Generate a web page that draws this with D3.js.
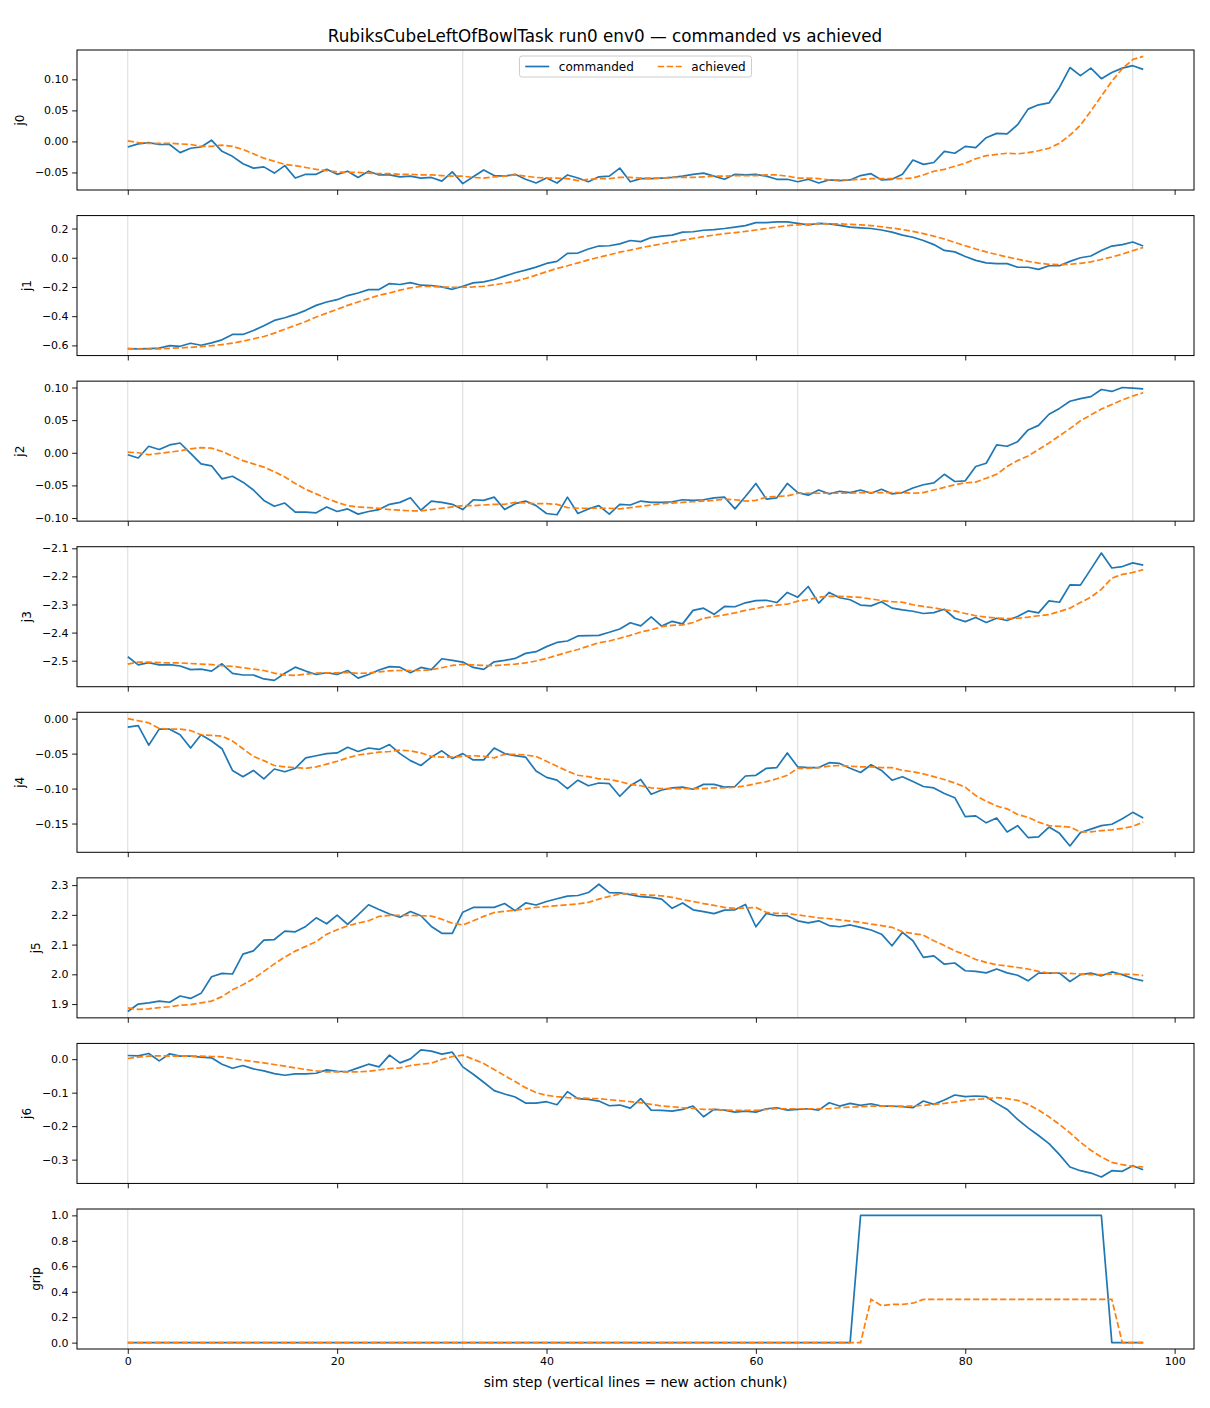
<!DOCTYPE html>
<html>
<head>
<meta charset="utf-8">
<script src="https://cdn.jsdelivr.net/npm/d3@7"></script>
<style>
  body { margin: 0; background: #fff; }
  text { font-family: "DejaVu Sans", sans-serif; }
</style>
</head>
<body>
<div id="chart"></div>
<script>
// ---------------- DATA (one value per sim step) ----------------
var j0Commanded = [
  -0.009, -0.004, -0.002, -0.005, -0.005, -0.018, -0.011, -0.009, 0.002, -0.016,
  -0.024, -0.036, -0.043, -0.041, -0.051, -0.039, -0.059, -0.053, -0.053, -0.045,
  -0.053, -0.048, -0.058, -0.048, -0.054, -0.054, -0.057, -0.056, -0.059, -0.058,
  -0.064, -0.049, -0.068, -0.057, -0.046, -0.055, -0.056, -0.053, -0.061, -0.067,
  -0.059, -0.067, -0.054, -0.059, -0.065, -0.057, -0.056, -0.043, -0.065, -0.060,
  -0.060, -0.059, -0.058, -0.056, -0.053, -0.051, -0.056, -0.061, -0.053, -0.054,
  -0.053, -0.056, -0.061, -0.061, -0.065, -0.061, -0.067, -0.062, -0.063, -0.062,
  -0.055, -0.052, -0.062, -0.061, -0.053, -0.030, -0.037, -0.034, -0.016, -0.019,
  -0.008, -0.010, 0.006, 0.013, 0.012, 0.027, 0.052, 0.059, 0.062, 0.087,
  0.119, 0.106, 0.118, 0.101, 0.111, 0.118, 0.122, 0.116];
var j0Achieved = [
  0.001, -0.002, -0.003, -0.003, -0.003, -0.004, -0.005, -0.008, -0.008, -0.006,
  -0.008, -0.013, -0.020, -0.027, -0.032, -0.037, -0.039, -0.042, -0.045, -0.047,
  -0.049, -0.050, -0.050, -0.051, -0.052, -0.052, -0.053, -0.053, -0.054, -0.054,
  -0.055, -0.056, -0.056, -0.058, -0.059, -0.057, -0.056, -0.054, -0.056, -0.058,
  -0.059, -0.059, -0.060, -0.063, -0.061, -0.060, -0.060, -0.058, -0.058, -0.059,
  -0.059, -0.059, -0.058, -0.058, -0.058, -0.057, -0.056, -0.056, -0.055, -0.055,
  -0.055, -0.054, -0.054, -0.056, -0.059, -0.059, -0.060, -0.062, -0.062, -0.062,
  -0.061, -0.060, -0.060, -0.060, -0.060, -0.059, -0.054, -0.048, -0.045, -0.040,
  -0.035, -0.028, -0.023, -0.021, -0.019, -0.020, -0.018, -0.015, -0.011, -0.003,
  0.010, 0.026, 0.049, 0.073, 0.097, 0.117, 0.132, 0.137];

var j1Commanded = [
  -0.622, -0.624, -0.622, -0.619, -0.601, -0.606, -0.585, -0.599, -0.583, -0.562,
  -0.525, -0.525, -0.498, -0.466, -0.429, -0.411, -0.388, -0.360, -0.326, -0.303,
  -0.287, -0.259, -0.241, -0.218, -0.218, -0.177, -0.183, -0.170, -0.188, -0.190,
  -0.200, -0.216, -0.195, -0.172, -0.165, -0.149, -0.126, -0.103, -0.085, -0.064,
  -0.039, -0.025, 0.030, 0.032, 0.060, 0.080, 0.082, 0.095, 0.118, 0.110,
  0.138, 0.148, 0.155, 0.175, 0.178, 0.188, 0.192, 0.200, 0.210, 0.220,
  0.240, 0.240, 0.245, 0.245, 0.235, 0.225, 0.235, 0.232, 0.222, 0.210,
  0.205, 0.200, 0.190, 0.175, 0.155, 0.140, 0.118, 0.090, 0.050, 0.040,
  0.008, -0.018, -0.035, -0.040, -0.040, -0.065, -0.065, -0.080, -0.055, -0.055,
  -0.025, 0.000, 0.012, 0.050, 0.080, 0.090, 0.108, 0.080];
var j1Achieved = [
  -0.622, -0.626, -0.625, -0.624, -0.620, -0.617, -0.613, -0.608, -0.602, -0.594,
  -0.585, -0.571, -0.555, -0.539, -0.516, -0.489, -0.463, -0.436, -0.406, -0.379,
  -0.353, -0.326, -0.303, -0.280, -0.257, -0.241, -0.222, -0.206, -0.197, -0.197,
  -0.200, -0.202, -0.202, -0.200, -0.195, -0.186, -0.174, -0.161, -0.142, -0.119,
  -0.096, -0.073, -0.055, -0.035, -0.015, 0.003, 0.020, 0.038, 0.052, 0.068,
  0.082, 0.095, 0.108, 0.120, 0.132, 0.145, 0.155, 0.165, 0.172, 0.180,
  0.190, 0.200, 0.210, 0.220, 0.225, 0.230, 0.232, 0.232, 0.232, 0.228,
  0.225, 0.220, 0.212, 0.203, 0.193, 0.180, 0.165, 0.148, 0.128, 0.105,
  0.082, 0.060, 0.040, 0.022, 0.005, -0.010, -0.025, -0.037, -0.045, -0.048,
  -0.045, -0.038, -0.028, -0.012, 0.005, 0.025, 0.048, 0.070];

var j2Commanded = [
  -0.003, -0.008, 0.010, 0.005, 0.012, 0.015, -0.001, -0.017, -0.020, -0.040,
  -0.036, -0.045, -0.057, -0.073, -0.082, -0.077, -0.091, -0.091, -0.092, -0.083,
  -0.090, -0.086, -0.094, -0.090, -0.087, -0.079, -0.076, -0.069, -0.088, -0.074,
  -0.076, -0.079, -0.087, -0.072, -0.073, -0.068, -0.087, -0.078, -0.074, -0.081,
  -0.093, -0.095, -0.068, -0.093, -0.086, -0.081, -0.094, -0.079, -0.080, -0.074,
  -0.076, -0.076, -0.075, -0.072, -0.073, -0.072, -0.069, -0.068, -0.086, -0.067,
  -0.047, -0.071, -0.069, -0.047, -0.061, -0.065, -0.057, -0.063, -0.059, -0.061,
  -0.057, -0.062, -0.056, -0.063, -0.061, -0.054, -0.049, -0.046, -0.033, -0.044,
  -0.043, -0.021, -0.016, 0.012, 0.010, 0.017, 0.035, 0.042, 0.059, 0.068,
  0.079, 0.083, 0.086, 0.097, 0.094, 0.100, 0.099, 0.098];
var j2Achieved = [
  0.001, 0.000, -0.003, -0.001, 0.001, 0.003, 0.006, 0.008, 0.007, 0.002,
  -0.005, -0.012, -0.017, -0.022, -0.029, -0.037, -0.047, -0.056, -0.063, -0.070,
  -0.076, -0.081, -0.083, -0.084, -0.085, -0.087, -0.088, -0.089, -0.089, -0.087,
  -0.085, -0.083, -0.081, -0.081, -0.080, -0.079, -0.079, -0.076, -0.077, -0.078,
  -0.078, -0.079, -0.084, -0.085, -0.085, -0.085, -0.085, -0.086, -0.084, -0.082,
  -0.080, -0.078, -0.077, -0.076, -0.075, -0.074, -0.073, -0.071, -0.072, -0.074,
  -0.073, -0.068, -0.067, -0.066, -0.062, -0.062, -0.062, -0.062, -0.062, -0.062,
  -0.061, -0.061, -0.061, -0.061, -0.061, -0.062, -0.061, -0.057, -0.053, -0.049,
  -0.046, -0.045, -0.039, -0.033, -0.021, -0.012, -0.005, 0.005, 0.015, 0.026,
  0.037, 0.049, 0.058, 0.067, 0.074, 0.081, 0.087, 0.092];

var j3Commanded = [
  -2.486, -2.515, -2.507, -2.515, -2.514, -2.519, -2.532, -2.530, -2.537, -2.511,
  -2.545, -2.551, -2.551, -2.565, -2.570, -2.545, -2.523, -2.537, -2.549, -2.543,
  -2.549, -2.535, -2.562, -2.549, -2.533, -2.521, -2.523, -2.543, -2.524, -2.532,
  -2.493, -2.499, -2.505, -2.524, -2.531, -2.504, -2.499, -2.492, -2.474, -2.468,
  -2.450, -2.435, -2.430, -2.412, -2.411, -2.410, -2.399, -2.387, -2.365, -2.376,
  -2.344, -2.377, -2.360, -2.369, -2.321, -2.313, -2.335, -2.307, -2.308, -2.294,
  -2.286, -2.285, -2.293, -2.257, -2.274, -2.236, -2.295, -2.257, -2.276, -2.283,
  -2.302, -2.305, -2.290, -2.313, -2.319, -2.324, -2.332, -2.329, -2.317, -2.349,
  -2.361, -2.346, -2.364, -2.349, -2.357, -2.343, -2.323, -2.330, -2.287, -2.292,
  -2.230, -2.231, -2.174, -2.117, -2.170, -2.165, -2.152, -2.160];
var j3Achieved = [
  -2.512, -2.505, -2.505, -2.507, -2.508, -2.508, -2.510, -2.512, -2.514, -2.518,
  -2.520, -2.525, -2.530, -2.535, -2.544, -2.551, -2.552, -2.548, -2.544, -2.543,
  -2.543, -2.542, -2.545, -2.544, -2.540, -2.536, -2.535, -2.535, -2.535, -2.532,
  -2.525, -2.517, -2.513, -2.515, -2.517, -2.518, -2.515, -2.512, -2.508, -2.501,
  -2.492, -2.481, -2.470, -2.460, -2.448, -2.436, -2.430, -2.420, -2.410, -2.398,
  -2.390, -2.379, -2.374, -2.373, -2.364, -2.349, -2.343, -2.337, -2.330, -2.321,
  -2.314, -2.307, -2.302, -2.299, -2.288, -2.283, -2.274, -2.271, -2.271, -2.273,
  -2.275, -2.280, -2.286, -2.290, -2.292, -2.301, -2.307, -2.312, -2.319, -2.323,
  -2.332, -2.340, -2.345, -2.348, -2.350, -2.349, -2.345, -2.340, -2.336, -2.325,
  -2.313, -2.293, -2.274, -2.246, -2.206, -2.193, -2.186, -2.176];

var j4Commanded = [
  -0.012, -0.010, -0.038, -0.015, -0.015, -0.023, -0.042, -0.023, -0.032, -0.043,
  -0.074, -0.083, -0.074, -0.086, -0.072, -0.076, -0.071, -0.056, -0.053, -0.050,
  -0.049, -0.041, -0.047, -0.042, -0.044, -0.037, -0.050, -0.060, -0.067, -0.055,
  -0.046, -0.057, -0.050, -0.059, -0.059, -0.042, -0.050, -0.053, -0.055, -0.075,
  -0.084, -0.088, -0.100, -0.088, -0.096, -0.092, -0.093, -0.111, -0.096, -0.087,
  -0.108, -0.102, -0.099, -0.098, -0.101, -0.094, -0.094, -0.098, -0.097, -0.082,
  -0.081, -0.071, -0.070, -0.049, -0.069, -0.070, -0.070, -0.063, -0.064, -0.071,
  -0.077, -0.066, -0.074, -0.088, -0.083, -0.090, -0.097, -0.099, -0.107, -0.113,
  -0.140, -0.139, -0.149, -0.142, -0.162, -0.153, -0.170, -0.169, -0.155, -0.164,
  -0.182, -0.163, -0.158, -0.153, -0.151, -0.143, -0.134, -0.142];
var j4Achieved = [
  0.000, -0.003, -0.006, -0.014, -0.015, -0.015, -0.017, -0.023, -0.024, -0.025,
  -0.032, -0.043, -0.054, -0.060, -0.067, -0.069, -0.070, -0.071, -0.069, -0.065,
  -0.061, -0.056, -0.052, -0.050, -0.048, -0.047, -0.045, -0.046, -0.049, -0.054,
  -0.055, -0.055, -0.054, -0.053, -0.054, -0.056, -0.051, -0.051, -0.052, -0.054,
  -0.061, -0.068, -0.075, -0.081, -0.083, -0.086, -0.087, -0.090, -0.094, -0.096,
  -0.099, -0.100, -0.100, -0.100, -0.100, -0.100, -0.099, -0.099, -0.098, -0.096,
  -0.093, -0.090, -0.086, -0.081, -0.071, -0.071, -0.070, -0.068, -0.067, -0.068,
  -0.069, -0.069, -0.070, -0.070, -0.074, -0.076, -0.079, -0.083, -0.087, -0.092,
  -0.098, -0.110, -0.118, -0.125, -0.129, -0.137, -0.141, -0.148, -0.153, -0.154,
  -0.155, -0.162, -0.162, -0.160, -0.159, -0.157, -0.154, -0.148];

var j5Commanded = [
  1.875, 1.900, 1.904, 1.910, 1.906, 1.927, 1.919, 1.936, 1.992, 2.003,
  2.001, 2.068, 2.079, 2.115, 2.117, 2.145, 2.143, 2.161, 2.190, 2.170,
  2.199, 2.168, 2.200, 2.234, 2.218, 2.203, 2.192, 2.211, 2.197, 2.161,
  2.138, 2.138, 2.209, 2.225, 2.225, 2.225, 2.238, 2.214, 2.240, 2.233,
  2.245, 2.254, 2.263, 2.265, 2.275, 2.303, 2.275, 2.274, 2.268, 2.261,
  2.259, 2.253, 2.222, 2.240, 2.217, 2.211, 2.204, 2.216, 2.217, 2.235,
  2.160, 2.205, 2.197, 2.197, 2.180, 2.173, 2.180, 2.164, 2.160, 2.166,
  2.158, 2.149, 2.135, 2.096, 2.141, 2.113, 2.057, 2.062, 2.034, 2.038,
  2.012, 2.010, 2.005, 2.018, 2.005, 1.997, 1.978, 2.004, 2.004, 2.004,
  1.976, 1.999, 2.004, 1.995, 2.008, 1.999, 1.986, 1.978];
var j5Achieved = [
  1.887, 1.882, 1.884, 1.888, 1.891, 1.896, 1.898, 1.904, 1.910, 1.925,
  1.948, 1.965, 1.985, 2.010, 2.035, 2.058, 2.078, 2.094, 2.110, 2.135,
  2.150, 2.163, 2.172, 2.180, 2.195, 2.198, 2.198, 2.198, 2.197, 2.196,
  2.185, 2.172, 2.166, 2.180, 2.195, 2.208, 2.212, 2.216, 2.220, 2.225,
  2.228, 2.231, 2.234, 2.237, 2.242, 2.253, 2.262, 2.270, 2.272, 2.268,
  2.266, 2.264, 2.259, 2.251, 2.245, 2.238, 2.232, 2.225, 2.222, 2.223,
  2.225, 2.208, 2.205, 2.204, 2.200, 2.195, 2.190, 2.187, 2.183, 2.179,
  2.175, 2.169, 2.164, 2.158, 2.143, 2.137, 2.132, 2.113, 2.097, 2.079,
  2.066, 2.050, 2.040, 2.032, 2.028, 2.023, 2.018, 2.010, 2.004, 2.004,
  2.003, 2.001, 1.999, 1.999, 2.001, 2.001, 2.000, 1.996];

var j6Commanded = [
  0.011, 0.010, 0.017, -0.005, 0.016, 0.009, 0.009, 0.006, 0.004, -0.015,
  -0.027, -0.019, -0.029, -0.035, -0.043, -0.048, -0.044, -0.044, -0.042, -0.032,
  -0.036, -0.037, -0.026, -0.015, -0.023, 0.012, -0.011, 0.001, 0.028, 0.024,
  0.015, 0.021, -0.023, -0.045, -0.069, -0.094, -0.104, -0.113, -0.131, -0.131,
  -0.127, -0.136, -0.097, -0.118, -0.120, -0.125, -0.139, -0.137, -0.146, -0.118,
  -0.152, -0.153, -0.155, -0.150, -0.140, -0.172, -0.150, -0.152, -0.158, -0.155,
  -0.158, -0.148, -0.145, -0.152, -0.150, -0.148, -0.152, -0.130, -0.140, -0.132,
  -0.138, -0.133, -0.140, -0.140, -0.142, -0.145, -0.125, -0.135, -0.122, -0.107,
  -0.112, -0.110, -0.112, -0.132, -0.150, -0.180, -0.205, -0.228, -0.252, -0.285,
  -0.322, -0.333, -0.340, -0.352, -0.333, -0.335, -0.318, -0.330];
var j6Achieved = [
  0.002, 0.006, 0.009, 0.010, 0.009, 0.009, 0.009, 0.009, 0.008, 0.007,
  0.002, -0.003, -0.007, -0.011, -0.016, -0.021, -0.026, -0.031, -0.035, -0.038,
  -0.038, -0.038, -0.038, -0.036, -0.032, -0.028, -0.026, -0.019, -0.015, -0.012,
  -0.001, 0.008, 0.012, 0.000, -0.013, -0.031, -0.049, -0.067, -0.085, -0.100,
  -0.108, -0.112, -0.115, -0.116, -0.117, -0.118, -0.121, -0.124, -0.127, -0.130,
  -0.135, -0.140, -0.142, -0.145, -0.147, -0.150, -0.150, -0.152, -0.153, -0.153,
  -0.153, -0.150, -0.148, -0.148, -0.148, -0.148, -0.148, -0.148, -0.145, -0.143,
  -0.142, -0.140, -0.140, -0.140, -0.140, -0.140, -0.138, -0.135, -0.132, -0.128,
  -0.123, -0.120, -0.118, -0.115, -0.118, -0.123, -0.135, -0.152, -0.172, -0.195,
  -0.220, -0.248, -0.272, -0.292, -0.308, -0.315, -0.320, -0.322];

var gripCommanded = [
  0, 0, 0, 0, 0, 0, 0, 0, 0, 0,
  0, 0, 0, 0, 0, 0, 0, 0, 0, 0,
  0, 0, 0, 0, 0, 0, 0, 0, 0, 0,
  0, 0, 0, 0, 0, 0, 0, 0, 0, 0,
  0, 0, 0, 0, 0, 0, 0, 0, 0, 0,
  0, 0, 0, 0, 0, 0, 0, 0, 0, 0,
  0, 0, 0, 0, 0, 0, 0, 0, 0, 0,
  1, 1, 1, 1, 1, 1, 1, 1, 1, 1,
  1, 1, 1, 1, 1, 1, 1, 1, 1, 1,
  1, 1, 1, 1, 0, 0, 0, 0];
var gripAchieved = [
  0, 0, 0, 0, 0, 0, 0, 0, 0, 0,
  0, 0, 0, 0, 0, 0, 0, 0, 0, 0,
  0, 0, 0, 0, 0, 0, 0, 0, 0, 0,
  0, 0, 0, 0, 0, 0, 0, 0, 0, 0,
  0, 0, 0, 0, 0, 0, 0, 0, 0, 0,
  0, 0, 0, 0, 0, 0, 0, 0, 0, 0,
  0, 0, 0, 0, 0, 0, 0, 0, 0, 0,
  0, 0.34, 0.29, 0.30, 0.30, 0.31, 0.34, 0.34, 0.34, 0.34,
  0.34, 0.34, 0.34, 0.34, 0.34, 0.34, 0.34, 0.34, 0.34, 0.34,
  0.34, 0.34, 0.34, 0.34, 0.34, 0, 0, 0];

// tick labels
var xTicks = [0, 20, 40, 60, 80, 100];
var chunkStarts = [0, 32, 64, 96];
var j0Ticks = [-0.05, 0.00, 0.05, 0.10];
var j1Ticks = [-0.6, -0.4, -0.2, 0.0, 0.2];
var j2Ticks = [-0.10, -0.05, 0.00, 0.05, 0.10];
var j3Ticks = [-2.5, -2.4, -2.3, -2.2, -2.1];
var j4Ticks = [-0.15, -0.10, -0.05, 0.00];
var j5Ticks = [1.9, 2.0, 2.1, 2.2, 2.3];
var j6Ticks = [-0.3, -0.2, -0.1, 0.0];
var gripTicks = [0.0, 0.2, 0.4, 0.6, 0.8, 1.0];

var panelNames = ["j0", "j1", "j2", "j3", "j4", "j5", "j6", "grip"];
var commandedSeries = [j0Commanded, j1Commanded, j2Commanded, j3Commanded, j4Commanded, j5Commanded, j6Commanded, gripCommanded];
var achievedSeries = [j0Achieved, j1Achieved, j2Achieved, j3Achieved, j4Achieved, j5Achieved, j6Achieved, gripAchieved];
var yTickValues = [j0Ticks, j1Ticks, j2Ticks, j3Ticks, j4Ticks, j5Ticks, j6Ticks, gripTicks];
var yTickDigits = [".2f", ".1f", ".2f", ".1f", ".2f", ".1f", ".1f", ".1f"];

// ---------------- LAYOUT ----------------
var width = 1210,
    height = 1408;

var plotLeft = 77,
    plotRight = 1194,
    firstTop = 50,
    lastBottom = 1349,
    panelHeight = 140;

var gap = (lastBottom - firstTop - panelNames.length * panelHeight) / (panelNames.length - 1);

var blue = "#1f77b4",
    orange = "#ff7f0e";

var tickFont = 11,
    labelFont = 12;

var svg = d3.select("#chart").append("svg")
    .attr("width", width)
    .attr("height", height)
    .style("background", "#fff");

var nSteps = j0Commanded.length;
var xPad = 0.05 * (nSteps - 1);
var x = d3.scaleLinear()
    .domain([-xPad, nSteps - 1 + xPad])
    .range([plotLeft, plotRight]);

/*
-----------------PANELS-----------------
*/
panelNames.forEach(function(name, k) {
  var top = firstTop + k * (panelHeight + gap);
  var bottom = top + panelHeight;

  // matplotlib style 5% margin around the data
  var ext = d3.extent(commandedSeries[k].concat(achievedSeries[k]));
  var pad = 0.05 * (ext[1] - ext[0]);
  var y = d3.scaleLinear()
      .domain([ext[0] - pad, ext[1] + pad])
      .range([bottom, top]);

  var g = svg.append("g").attr("class", "panel");

  // action chunk boundaries
  g.selectAll(".chunk")
    .data(chunkStarts)
    .enter().append("line")
    .attr("class", "chunk")
    .attr("x1", function(d) { return x(d); })
    .attr("x2", function(d) { return x(d); })
    .attr("y1", top)
    .attr("y2", bottom)
    .attr("stroke", "#000")
    .attr("stroke-opacity", 0.15)
    .attr("stroke-width", 1);

  var line = d3.line()
      .x(function(d, i) { return x(i); })
      .y(function(d) { return y(d); });

  g.append("path")
    .datum(commandedSeries[k])
    .attr("d", line)
    .attr("fill", "none")
    .attr("stroke", blue)
    .attr("stroke-width", 1.7)
    .attr("stroke-linejoin", "round");

  g.append("path")
    .datum(achievedSeries[k])
    .attr("d", line)
    .attr("fill", "none")
    .attr("stroke", orange)
    .attr("stroke-width", 1.7)
    .attr("stroke-dasharray", "6.3,2.7");

  // frame
  g.append("rect")
    .attr("x", plotLeft)
    .attr("y", top)
    .attr("width", plotRight - plotLeft)
    .attr("height", panelHeight)
    .attr("fill", "none")
    .attr("stroke", "#000")
    .attr("stroke-width", 1);

  // y axis
  var yAxis = g.append("g")
      .attr("transform", "translate(" + plotLeft + ",0)")
      .call(d3.axisLeft(y)
        .tickValues(yTickValues[k])
        .tickFormat(d3.format(yTickDigits[k]))
        .tickSize(4.9)
        .tickPadding(3.5));
  yAxis.select(".domain").remove();
  yAxis.attr("font-family", null).attr("font-size", tickFont);
  yAxis.selectAll("line").attr("stroke-width", 0.9);

  // x axis: marks on every panel, labels only on the last one
  var isLast = k === panelNames.length - 1;
  var xAxis = g.append("g")
      .attr("transform", "translate(0," + bottom + ")")
      .call(d3.axisBottom(x)
        .tickValues(xTicks)
        .tickFormat(isLast ? d3.format("d") : function() { return ""; })
        .tickSize(4.9)
        .tickPadding(3.5));
  xAxis.select(".domain").remove();
  xAxis.attr("font-family", null).attr("font-size", tickFont);
  xAxis.selectAll("line").attr("stroke-width", 0.9);

  // y label, placed left of the widest tick label
  var widest = d3.max(yAxis.selectAll("text").nodes(), function(n) { return n.getComputedTextLength(); });
  var labelX = plotLeft - 4.9 - 3.5 - widest - 8.5 - 0.58 * labelFont;
  g.append("text")
    .attr("transform", "translate(" + labelX + "," + (top + panelHeight / 2) + ") rotate(-90)")
    .attr("text-anchor", "middle")
    .attr("dy", "0.35em")
    .attr("font-size", labelFont)
    .text(name);

  if (k === 0) drawLegend(g, top);
});

/*
-----------------LEGEND-----------------
*/
function drawLegend(g, top) {
  var fs = labelFont;
  var entries = [{label: "commanded", color: blue, dash: null},
                 {label: "achieved", color: orange, dash: "6.3,2.7"}];
  var leg = g.append("g");
  var box = leg.append("rect");

  var cursor = 0;
  entries.forEach(function(e, i) {
    if (i > 0) cursor += 2.0 * fs;
    leg.append("line")
      .attr("x1", cursor).attr("x2", cursor + 2.0 * fs)
      .attr("y1", 0).attr("y2", 0)
      .attr("stroke", e.color)
      .attr("stroke-width", 1.7)
      .attr("stroke-dasharray", e.dash);
    cursor += 2.0 * fs + 0.8 * fs;
    var t = leg.append("text")
      .attr("x", cursor)
      .attr("y", 0)
      .attr("dy", "0.35em")
      .attr("font-size", fs)
      .text(e.label);
    cursor += t.node().getComputedTextLength();
  });

  var padX = 0.4 * fs + 1,
      boxH = 21,
      boxW = cursor + 2 * padX;
  var left = (plotLeft + plotRight) / 2 - boxW / 2;
  var boxTop = top + 6;

  box.attr("x", -padX).attr("y", -boxH / 2)
    .attr("width", boxW).attr("height", boxH)
    .attr("rx", 2.5)
    .attr("fill", "#fff").attr("fill-opacity", 0.8)
    .attr("stroke", "#cccccc").attr("stroke-width", 1);

  leg.attr("transform", "translate(" + (left + padX) + "," + (boxTop + boxH / 2) + ")");
}

/*
-----------------TITLES-----------------
*/
svg.append("text")
  .attr("x", width / 2)
  .attr("y", 42)
  .attr("text-anchor", "middle")
  .attr("font-size", 16.8)
  .text("RubiksCubeLeftOfBowlTask run0 env0 \u2014 commanded vs achieved");

svg.append("text")
  .attr("x", (plotLeft + plotRight) / 2)
  .attr("y", 1387)
  .attr("text-anchor", "middle")
  .attr("font-size", 13.8)
  .text("sim step (vertical lines = new action chunk)");
</script>
</body>
</html>
